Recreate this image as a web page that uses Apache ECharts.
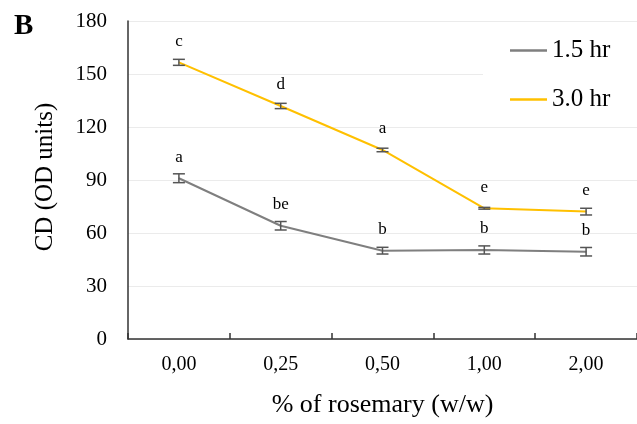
<!DOCTYPE html>
<html>
<head>
<meta charset="utf-8">
<script src="https://cdn.jsdelivr.net/npm/echarts@6/dist/echarts.min.js"></script>
<style>
html,body{margin:0;padding:0;background:#fff;}
#chart{width:637px;height:424px;}
</style>
</head>
<body>
<div id="chart"></div>
<script>
var categories = ['0,00', '0,25', '0,50', '1,00', '2,00'];
var yTicks = [0, 30, 60, 90, 120, 150, 180];
var seriesNames = ['1.5 hr', '3.0 hr'];
var values15 = [91.0, 64.1, 50.0, 50.4, 49.4];
var errors15 = [2.5, 2.4, 1.9, 2.3, 2.4];
var letters15 = ['a', 'be', 'b', 'b', 'b'];
var values30 = [156.6, 131.9, 107.0, 74.0, 72.1];
var errors30 = [1.7, 1.5, 1.0, 0.5, 1.9];
var letters30 = ['c', 'd', 'a', 'e', 'e'];

var FONT = '"Liberation Serif", "Times New Roman", serif';
var chart = echarts.init(document.getElementById('chart'));

function errData(vals, errs) {
  return vals.map(function (v, i) { return [i, v - errs[i], v + errs[i]]; });
}
function errRender(params, api) {
  var lo = api.coord([api.value(0), api.value(1)]);
  var hi = api.coord([api.value(0), api.value(2)]);
  var hw = 6;
  var st = { stroke: '#555', lineWidth: 1.5 };
  return {
    type: 'group',
    children: [
      { type: 'line', shape: { x1: lo[0], y1: lo[1], x2: hi[0], y2: hi[1] }, style: st },
      { type: 'line', shape: { x1: lo[0] - hw, y1: lo[1], x2: lo[0] + hw, y2: lo[1] }, style: st },
      { type: 'line', shape: { x1: hi[0] - hw, y1: hi[1], x2: hi[0] + hw, y2: hi[1] }, style: st }
    ]
  };
}
function lineSeries(name, vals, letters, color) {
  return {
    name: name,
    type: 'line',
    data: vals,
    symbol: 'circle',
    symbolSize: 1,
    showSymbol: true,
    z: 2,
    lineStyle: { color: color, width: 2 },
    itemStyle: { color: color },
    label: {
      show: true,
      position: 'top',
      distance: 12,
      fontFamily: FONT,
      fontSize: 17,
      color: '#000',
      formatter: function (p) { return letters[p.dataIndex]; }
    }
  };
}

chart.setOption({
  animation: false,
  backgroundColor: '#fff',
  graphic: [{
    type: 'text', left: 14, top: 12,
    style: { text: 'B', fontFamily: FONT, fontSize: 29, fontWeight: 'bold', fill: '#000' }
  }],
  grid: { left: 128, top: 21, width: 514, height: 318, containLabel: false },
  legend: {
    data: seriesNames,
    orient: 'vertical',
    left: 483,
    top: 24,
    backgroundColor: '#fff',
    padding: [14, 60, 12, 27],
    itemGap: 24,
    itemWidth: 37,
    itemHeight: 2.5,
    icon: 'rect',
    textStyle: { fontFamily: FONT, fontSize: 25, color: '#000' }
  },
  xAxis: {
    type: 'category',
    data: categories,
    boundaryGap: true,
    axisLine: { lineStyle: { color: '#333', width: 1.5 } },
    axisTick: { show: true, inside: true, length: 6, lineStyle: { color: '#333', width: 1.5 } },
    axisLabel: { fontFamily: FONT, fontSize: 20, color: '#000', margin: 16 },
    name: '% of rosemary (w/w)',
    nameLocation: 'middle',
    nameGap: 53,
    nameTextStyle: { fontFamily: FONT, fontSize: 26, color: '#000' }
  },
  yAxis: {
    type: 'value',
    min: 0,
    max: 180,
    interval: 30,
    axisLine: { show: true, lineStyle: { color: '#333', width: 1.5 } },
    axisTick: { show: false },
    axisLabel: {
      fontFamily: FONT, fontSize: 21, color: '#000', margin: 21,
      formatter: function (v) { return yTicks.indexOf(v) >= 0 ? String(v) : ''; }
    },
    splitLine: { show: true, lineStyle: { color: '#ebebeb', width: 1 } },
    name: 'CD (OD units)',
    nameLocation: 'middle',
    nameGap: 70,
    nameTextStyle: { fontFamily: FONT, fontSize: 25, color: '#000', padding: [0, 0, 0, 6] }
  },
  series: [
    lineSeries(seriesNames[0], values15, letters15, '#7f7f7f'),
    lineSeries(seriesNames[1], values30, letters30, '#ffc000'),
    { type: 'custom', z: 3, renderItem: errRender, data: errData(values15, errors15), silent: true },
    { type: 'custom', z: 3, renderItem: errRender, data: errData(values30, errors30), silent: true }
  ]
});
</script>
</body>
</html>
